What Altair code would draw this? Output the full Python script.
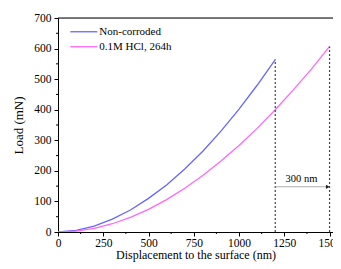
import altair as alt
import pandas as pd

# --- data ---
disp_nc = [0, 100, 200, 300, 400, 500, 600, 700, 800, 900, 1000, 1100, 1200]
load_nc = [0, 5, 19, 42, 72, 110, 154, 206, 264, 330, 402, 480, 564]

disp_hcl = [0, 100, 200, 300, 400, 500, 600, 700, 800, 900, 1000, 1100, 1200, 1300, 1400, 1500]
load_hcl = [0, 3, 12, 27, 48, 74, 106, 143, 185, 232, 283, 339, 400, 465, 533, 607]

series_names = ["Non-corroded", "0.1M HCl, 264h"]
series_colors = ["#6666ff", "#ff66ff"]

end_disp = [1200, 1500]
end_load = [564, 607]

arrow_from = 1200
arrow_to = 1500
arrow_load = 148
arrow_label = "300 nm"

x_ticks = [0, 250, 500, 750, 1000, 1250, 1500]
y_ticks = [0, 100, 200, 300, 400, 500, 600, 700]
x_minor = [125, 375, 625, 875, 1125, 1375]
y_minor = [50, 150, 250, 350, 450, 550, 650]

FONT = "Liberation Serif"
W, H = 275, 214
XMAX = 1519

df = pd.concat([
    pd.DataFrame({"d": disp_nc, "load": load_nc, "s": series_names[0]}),
    pd.DataFrame({"d": disp_hcl, "load": load_hcl, "s": series_names[1]}),
])

xs = alt.Scale(domain=[0, XMAX], nice=False, zero=False)
ys = alt.Scale(domain=[0, 700], nice=False)
cs = alt.Scale(domain=series_names, range=series_colors)

xax = alt.Axis(values=x_ticks, format="d", title="Displacement to the surface (nm)", grid=False,
               labelFont=FONT, labelFontSize=11.5, labelColor="black", titleFont=FONT,
               titleFontSize=12, titleFontWeight="normal", titleColor="black",
               domainColor="black", tickColor="black", tickSize=4, labelPadding=1,
               titlePadding=1, labelFlush=False, labelOverlap=False)
yax = alt.Axis(values=y_ticks, format="d", title="Load (mN)", grid=False,
               labelFont=FONT, labelFontSize=11.5, labelColor="black", titleFont=FONT,
               titleFontSize=13, titleFontWeight="normal", titleColor="black",
               domainColor="black", tickColor="black", tickSize=4, labelPadding=3,
               titlePadding=8, labelOverlap=False, labelFlush=False)


def X(field):
    return alt.X(field, scale=xs, axis=xax)


def Y(field):
    return alt.Y(field, scale=ys, axis=yax)


lines = alt.Chart(df).mark_line(strokeWidth=1.3, clip=True).encode(
    x=X("d:Q"), y=Y("load:Q"),
    color=alt.Color("s:N", scale=cs, legend=None),
    detail="s:N",
)

ends = pd.DataFrame({"d": end_disp, "load": end_load, "zero": [0, 0]})
vrules = alt.Chart(ends).mark_rule(color="#444444", strokeDash=[2, 2], strokeWidth=1.2).encode(
    x=X("d:Q"), y=Y("zero:Q"), y2="load:Q")

arr = pd.DataFrame({"d": [arrow_from], "d2": [arrow_to - 8], "load": [arrow_load]})
arrow_line = alt.Chart(arr).mark_rule(color="#999999", strokeWidth=0.8).encode(
    x=X("d:Q"), x2="d2:Q", y=Y("load:Q"))
head = pd.DataFrame({"d": [arrow_to - 10], "load": [arrow_load]})
arrow_head = alt.Chart(head).mark_point(shape="triangle-right", filled=True, size=18,
                                        color="#222222", opacity=1).encode(x=X("d:Q"), y=Y("load:Q"))
lab = pd.DataFrame({"d": [(arrow_from + arrow_to) / 2 - 5], "load": [arrow_load + 24], "t": [arrow_label]})
arrow_text = alt.Chart(lab).mark_text(font=FONT, fontSize=10.5, color="black").encode(
    x=X("d:Q"), y=Y("load:Q"), text="t:N")

leg = pd.DataFrame({"s": series_names, "d": [68, 68], "x1": [217, 217], "tx": [228, 228],
                    "load": [655, 606]})
leg_lines = alt.Chart(leg).mark_rule(strokeWidth=1.3).encode(
    x=X("d:Q"), x2="x1:Q", y=Y("load:Q"), color=alt.Color("s:N", scale=cs, legend=None))
leg_text = alt.Chart(leg).mark_text(font=FONT, fontSize=11, align="left", color="black").encode(
    x=X("tx:Q"), y=Y("load:Q"), text="s:N")

frame = pd.DataFrame({"d": [0], "d2": [XMAX], "load": [700]})
top_frame = alt.Chart(frame).mark_rule(color="black", strokeWidth=1).encode(
    x=X("d:Q"), x2="d2:Q", y=Y("load:Q"))

xm = alt.Chart(pd.DataFrame({"d": x_minor})).mark_rule(color="black", strokeWidth=1).encode(
    x=X("d:Q"), y=alt.value(H), y2=alt.value(H + 2))
ym = alt.Chart(pd.DataFrame({"load": y_minor})).mark_rule(color="black", strokeWidth=1).encode(
    y=Y("load:Q"), x=alt.value(-2), x2=alt.value(0))

chart = alt.layer(lines, vrules, arrow_line, arrow_head, arrow_text, leg_lines, leg_text,
                  top_frame, xm, ym).properties(
    width=W, height=H,
    autosize=alt.AutoSizeParams(type="none"),
    padding={"left": 50, "top": 10, "right": 0, "bottom": 31},
).configure_view(stroke=None).configure(background="white")

chart.save("out.html", embed_options={"renderer": "svg", "actions": False})
